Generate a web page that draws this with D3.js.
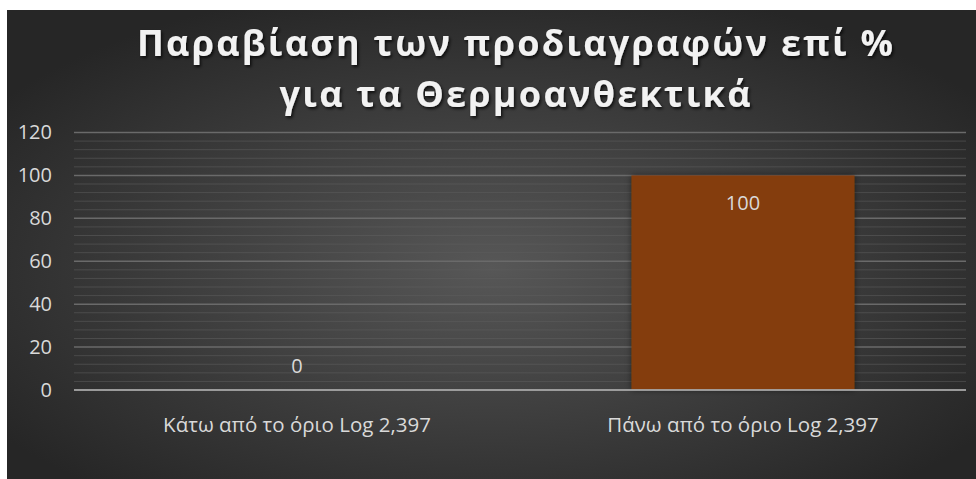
<!DOCTYPE html>
<html>
<head>
<meta charset="utf-8">
<script src="https://cdn.jsdelivr.net/npm/d3@7"></script>
<style>
  body { margin: 0; background: #fff; }
  text { font-family: "Open Sans", "Noto Sans", sans-serif; }
</style>
</head>
<body>
<div id="chart"></div>
<script>
// data
const categories = ['Κάτω από το όριο Log 2,397', 'Πάνω από το όριο Log 2,397'];
const values = [0, 100];
const yTicks = [0, 20, 40, 60, 80, 100, 120];
const titleLines = ['Παραβίαση των προδιαγραφών επί %', 'για τα Θερμοανθεκτικά'];

const width = 976, height = 479;
const margin = {left: 74, right: 10, top: 132.5, bottom: 89};

const svg = d3.select('#chart')
    .append('svg')
    .attr('width', width)
    .attr('height', height);

const defs = svg.append('defs');
const grad = defs.append('radialGradient')
    .attr('id', 'bgGrad')
    .attr('cx', '50%').attr('cy', '55%').attr('r', '62%');
grad.append('stop').attr('offset', '0%').attr('stop-color', '#575757');
grad.append('stop').attr('offset', '100%').attr('stop-color', '#262626');

const shadow = defs.append('filter').attr('id', 'txtShadow')
    .attr('x', '-10%').attr('y', '-20%').attr('width', '120%').attr('height', '150%');
shadow.append('feDropShadow')
    .attr('dx', 1.5).attr('dy', 2).attr('stdDeviation', 1.5)
    .attr('flood-color', '#000').attr('flood-opacity', 0.75);

const barShadow = defs.append('filter').attr('id', 'barShadow')
    .attr('x', '-10%').attr('y', '-10%').attr('width', '120%').attr('height', '120%');
barShadow.append('feDropShadow')
    .attr('dx', 0).attr('dy', 0).attr('stdDeviation', 3)
    .attr('flood-color', '#000').attr('flood-opacity', 0.5);

// chart area background
svg.append('rect')
    .attr('x', 7).attr('y', 10)
    .attr('width', width - 7).attr('height', height - 10)
    .attr('fill', 'url(#bgGrad)');

const x = d3.scaleBand()
    .domain(categories)
    .range([margin.left, width - margin.right])
    .paddingInner(0.5)
    .paddingOuter(0.25);

const y = d3.scaleLinear()
    .domain([0, 120])
    .range([height - margin.bottom, margin.top]);

// minor gridlines every 4
const minorTicks = d3.range(0, 121, 4).filter(d => d % 20 !== 0);
svg.append('g')
    .attr('id', 'minorGrid')
    .selectAll('line')
    .data(minorTicks)
    .join('line')
    .attr('x1', margin.left).attr('x2', width - margin.right)
    .attr('y1', d => y(d)).attr('y2', d => y(d))
    .attr('stroke', '#5e5e5e')
    .attr('stroke-opacity', 0.55)
    .attr('stroke-width', 1);

// major gridlines
svg.append('g')
    .attr('id', 'majorGrid')
    .selectAll('line')
    .data(yTicks.filter(d => d > 0))
    .join('line')
    .attr('x1', margin.left).attr('x2', width - margin.right)
    .attr('y1', d => y(d)).attr('y2', d => y(d))
    .attr('stroke', '#6a6a6a')
    .attr('stroke-width', 1.5);

// bars
svg.append('g')
    .attr('id', 'barG')
    .selectAll('rect')
    .data(values)
    .join('rect')
    .attr('x', (d, i) => x(categories[i]))
    .attr('y', d => y(d))
    .attr('width', x.bandwidth())
    .attr('height', d => y(0) - y(d))
    .attr('fill', '#843c0c')
    .attr('filter', 'url(#barShadow)');

// baseline
svg.append('line')
    .attr('x1', margin.left).attr('x2', width - margin.right)
    .attr('y1', y(0)).attr('y2', y(0))
    .attr('stroke', '#a6a6a6')
    .attr('stroke-opacity', 0.9)
    .attr('stroke-width', 2);

// y axis labels
const yAxis = d3.axisLeft(y).tickValues(yTicks).tickSize(0).tickPadding(22);
const yG = svg.append('g')
    .attr('transform', `translate(${margin.left},0)`)
    .call(yAxis);
yG.select('.domain').remove();
yG.selectAll('text')
    .attr('fill', '#d9d9d9')
    .style('font-size', '20px');

// x axis labels
const xAxis = d3.axisBottom(x).tickSize(0).tickPadding(27);
const xG = svg.append('g')
    .attr('transform', `translate(0,${y(0)})`)
    .call(xAxis);
xG.select('.domain').remove();
xG.selectAll('text')
    .attr('fill', '#d9d9d9')
    .style('font-size', '20.5px');

// data labels
svg.append('g')
    .attr('id', 'labelG')
    .selectAll('text')
    .data(values)
    .join('text')
    .attr('x', (d, i) => x(categories[i]) + x.bandwidth() / 2)
    .attr('y', d => d > 0 ? y(d) + 35 : y(d) - 17)
    .attr('text-anchor', 'middle')
    .attr('fill', '#d9d9d9')
    .style('font-size', '20px')
    .text(d => d);

// title, spread out to the width of the original
const titleG = svg.append('g').attr('filter', 'url(#txtShadow)');
const titleCenter = 515, firstWidth = 756;
const baselines = [56, 107];
const titleTexts = titleG.selectAll('text')
    .data(titleLines)
    .join('text')
    .attr('y', (d, i) => baselines[i])
    .attr('fill', '#f2f2f2')
    .style('font-size', '36px')
    .style('font-weight', 'bold')
    .text(d => d);

let natural = titleTexts.nodes()[0].getComputedTextLength();
let spacing = (firstWidth - natural) / (titleLines[0].length - 1);
titleTexts.style('letter-spacing', spacing + 'px');
titleTexts.each(function(d) {
    let w = this.getComputedTextLength() - spacing;
    d3.select(this).attr('x', titleCenter - w / 2);
});
</script>
</body>
</html>
